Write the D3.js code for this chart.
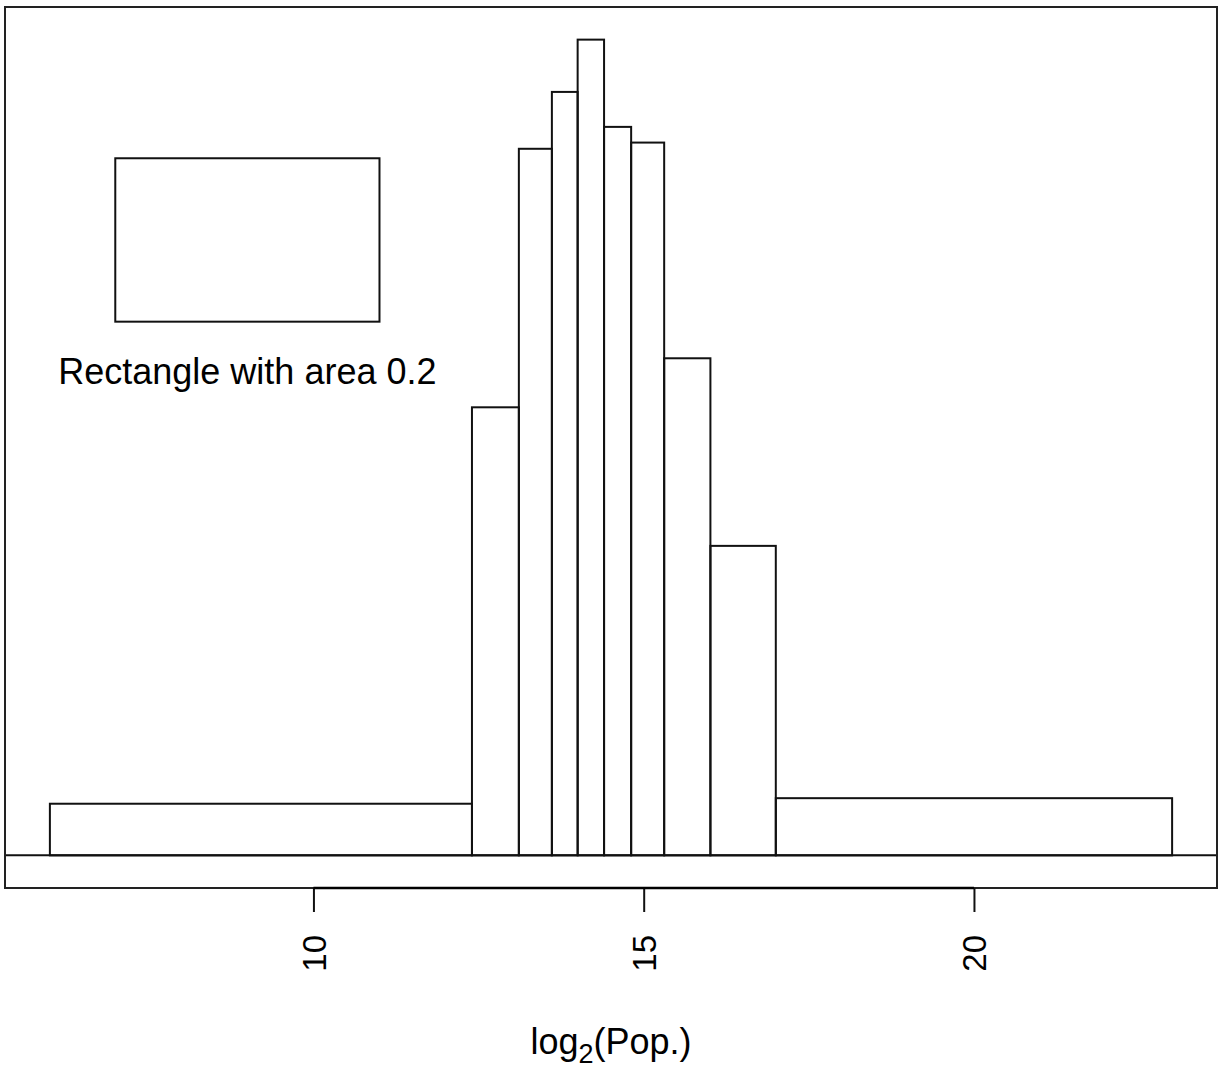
<!DOCTYPE html>
<html>
<head>
<meta charset="utf-8">
<script src="https://cdn.jsdelivr.net/npm/d3@7"></script>
<style>
  html, body { margin: 0; padding: 0; background: #fff; }
  svg { display: block; font-family: "Liberation Sans", Arial, Helvetica, sans-serif; }
</style>
</head>
<body>
<svg id="chart" width="1218" height="1072"></svg>
<script>
// Histogram of log2(population) on a density scale with unequal (decile) bins
const breaks = [6.01, 12.40, 13.11, 13.61, 14.00, 14.40, 14.81, 15.31, 16.01, 17.00, 23.00];
const density = [0.0158, 0.1371, 0.2162, 0.2336, 0.2496, 0.2229, 0.2181, 0.1521, 0.0947, 0.0175];
const tickValues = [10, 15, 20];
const tickLabels = ["10", "15", "20"];

// Reference rectangle: spans 7..11 on x, area 0.2
const refRect = { x0: 7, x1: 11, area: 0.2, base: 0.1633 };
const refLabel = "Rectangle with area 0.2";

const bins = density.map((d, i) => ({ x0: breaks[i], x1: breaks[i + 1], d }));

const svg = d3.select("#chart");
const plot = { left: 5, right: 1217, top: 7, bottom: 888 };

// R-style 4% axis extension
const xr = breaks[breaks.length - 1] - breaks[0];
const x = d3.scaleLinear()
  .domain([breaks[0] - 0.04 * xr, breaks[breaks.length - 1] + 0.04 * xr])
  .range([plot.left, plot.right]);
const ymax = d3.max(density);
const y = d3.scaleLinear()
  .domain([-0.04 * ymax, 1.04 * ymax])
  .range([plot.bottom, plot.top]);

const ink = "#111";

// histogram bars
svg.append("g").selectAll("rect")
  .data(bins)
  .join("rect")
  .attr("x", b => x(b.x0))
  .attr("y", b => y(b.d))
  .attr("width", b => x(b.x1) - x(b.x0))
  .attr("height", b => y(0) - y(b.d))
  .attr("fill", "none")
  .attr("stroke", ink)
  .attr("stroke-width", 2);

// zero line across the plot region
svg.append("line")
  .attr("x1", plot.left).attr("x2", plot.right)
  .attr("y1", y(0)).attr("y2", y(0))
  .attr("stroke", ink).attr("stroke-width", 2);

// plot box
svg.append("rect")
  .attr("x", plot.left).attr("y", plot.top)
  .attr("width", plot.right - plot.left)
  .attr("height", plot.bottom - plot.top)
  .attr("fill", "none")
  .attr("stroke", "#222")
  .attr("stroke-width", 2);

// area reference rectangle
const refH = refRect.area / (refRect.x1 - refRect.x0);
svg.append("rect")
  .attr("x", x(refRect.x0))
  .attr("y", y(refRect.base + refH))
  .attr("width", x(refRect.x1) - x(refRect.x0))
  .attr("height", y(refRect.base) - y(refRect.base + refH))
  .attr("fill", "none")
  .attr("stroke", ink)
  .attr("stroke-width", 2);

svg.append("text")
  .attr("x", x((refRect.x0 + refRect.x1) / 2))
  .attr("y", y(refRect.base) + 62)
  .attr("text-anchor", "middle")
  .attr("font-size", 36)
  .attr("fill", "#000")
  .text(refLabel);

// x axis (line spans first to last tick, labels perpendicular)
const axis = d3.axisBottom(x)
  .tickValues(tickValues)
  .tickFormat((d, i) => tickLabels[i])
  .tickSize(24)
  .tickSizeOuter(0);
const gx = svg.append("g")
  .attr("transform", `translate(0,${plot.bottom})`)
  .call(axis);
gx.select(".domain").remove();
gx.append("line")
  .attr("x1", x(tickValues[0])).attr("x2", x(tickValues[tickValues.length - 1]))
  .attr("y1", 0).attr("y2", 0)
  .attr("stroke", "#000").attr("stroke-width", 2.5);
gx.selectAll(".tick line").attr("stroke", ink).attr("stroke-width", 2);
gx.selectAll(".tick text")
  .attr("font-size", 33)
  .attr("fill", "#000")
  .attr("font-family", "'Liberation Sans', Arial, sans-serif")
  .attr("text-anchor", "end")
  .attr("transform", "translate(0,47) rotate(-90)")
  .attr("x", 0)
  .attr("y", 0)
  .attr("dy", "0.36em");

// x axis title with subscript
const title = svg.append("text")
  .attr("x", (plot.left + plot.right) / 2)
  .attr("y", 1054)
  .attr("text-anchor", "middle")
  .attr("font-size", 36)
  .attr("fill", "#000");
title.append("tspan").text("log");
title.append("tspan").attr("font-size", 27).attr("dy", 9).text("2");
title.append("tspan").attr("dy", -9).text("(Pop.)");
</script>
</body>
</html>
